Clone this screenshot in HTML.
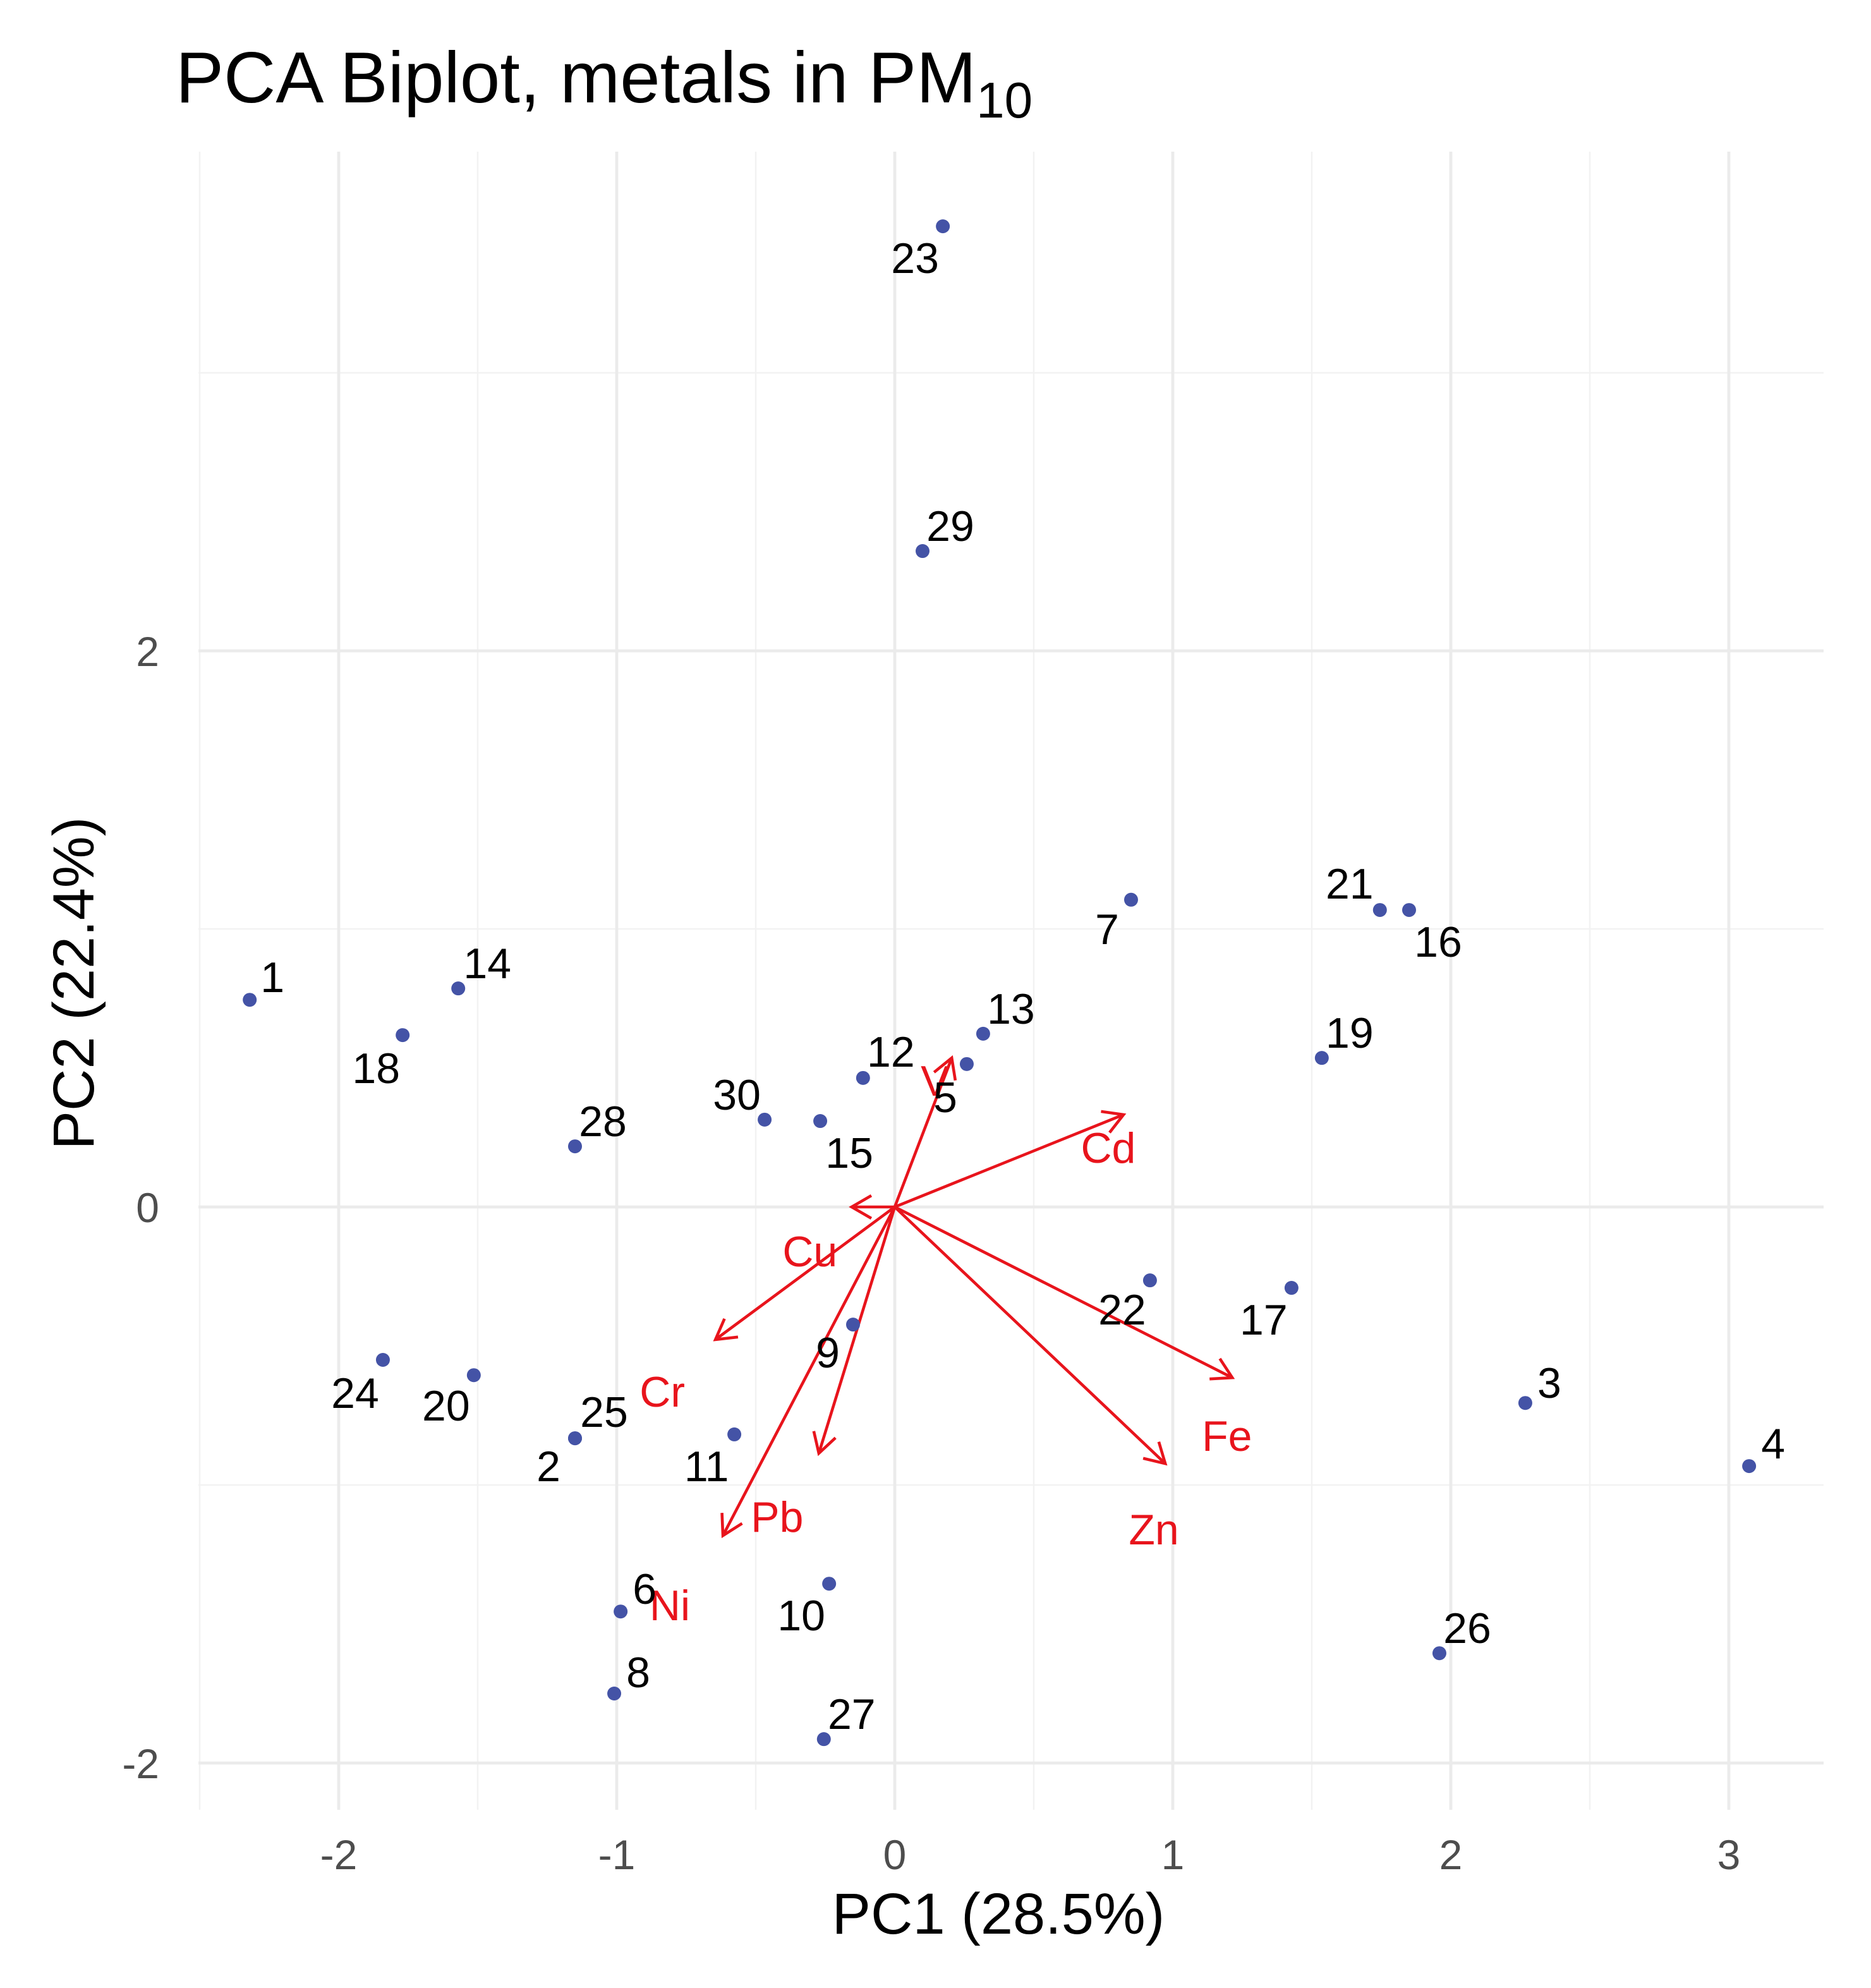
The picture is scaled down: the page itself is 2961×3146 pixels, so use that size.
<!DOCTYPE html>
<html><head><meta charset="utf-8">
<style>
html,body{margin:0;padding:0;background:#fff;}
svg{display:block;font-family:"Liberation Sans",Arial,sans-serif;}
</style></head>
<body>
<svg id="chart" width="2961" height="3146" viewBox="0 0 1480.5 1573" xmlns="http://www.w3.org/2000/svg">
<rect x="0" y="0" width="1480.5" height="1573" fill="#fff"/>
<g id="grid"></g>
<g id="ticks"></g>
<g id="arrows"></g>
<g id="points"></g>
<text x="139" y="81" font-size="57" fill="#000">PCA Biplot, metals in PM<tspan font-size="40" dy="12">10</tspan></text>
<text x="790" y="1530" font-size="46" text-anchor="middle" fill="#000">PC1 (28.5%)</text>
<text transform="translate(74,778) rotate(-90)" font-size="46" text-anchor="middle" fill="#000">PC2 (22.4%)</text>
</svg>
<script>
const obsIds = ["1","14","18","28","30","15","12","5","13","29","23","7","21","16","19","22","17","3","4","26","9","24","20","25","2","11","6","10","8","27"];
const pc1 = [-2.32,-1.57,-1.77,-1.15,-0.468,-0.268,-0.114,0.259,0.318,0.1,0.173,0.85,1.745,1.85,1.536,0.918,1.427,2.268,3.073,1.959,-0.15,-1.841,-1.514,-1.15,-1.15,-0.577,-0.986,-0.236,-1.009,-0.255];
const pc2 = [0.745,0.786,0.618,0.218,0.314,0.309,0.464,0.514,0.623,2.359,3.527,1.105,1.068,1.068,0.536,-0.264,-0.291,-0.705,-0.932,-1.605,-0.423,-0.55,-0.605,-0.832,-0.832,-0.818,-1.455,-1.355,-1.75,-1.914];
const labelDx = [18,23,-21,22,-22,23,22,-17,22,22,-22,-19,-24,23,22,-22,-22,19,19,22,-20,-22,-22,23,-21,-22,19,-22,19,22];
const labelDy = [-18,-20,26,-20,-20,25,-21,26,-20,-20,25,23,-21,25,-20,23,25,-16,-18,-20,22,26,24,-21,22,25,-18,25,-17,-20];
const varNames = ["V","Cd","Cu","Cr","Pb","Ni","Fe","Zn"];
const loadX = [0.205,0.823,-0.155,-0.645,-0.273,-0.618,1.214,0.973];
const loadY = [0.536,0.332,0,-0.477,-0.886,-1.182,-0.614,-0.923];
const varLabX = [0.145,0.768,-0.305,-0.836,-0.423,-0.809,1.195,0.932];
const varLabY = [0.455,0.214,-0.159,-0.664,-1.114,-1.432,-0.823,-1.159];
const xTicks = [-2,-1,0,1,2,3];
const yTicks = [-2,0,2];
const xMinor = [-2.5,-1.5,-0.5,0.5,1.5,2.5];
const yMinor = [-1,1,3];

const NS="http://www.w3.org/2000/svg";
const PX0=157,PX1=1443,PY0=120,PY1=1432;
const sx=v=>708+v*220, sy=v=>955-v*220;
function mk(tag,attrs,parent){const e=document.createElementNS(NS,tag);for(const k in attrs)e.setAttribute(k,attrs[k]);parent.appendChild(e);return e;}
const grid=document.getElementById('grid'),ticks=document.getElementById('ticks'),arrows=document.getElementById('arrows'),pts=document.getElementById('points');
xMinor.forEach(v=>{const l=mk('line',{x1:sx(v),x2:sx(v),y1:PY0,y2:PY1,stroke:'#f2f2f2','stroke-width':1.2},grid);

});
yMinor.forEach(v=>{const l=mk('line',{x1:PX0,x2:PX1,y1:sy(v),y2:sy(v),stroke:'#f2f2f2','stroke-width':1.2},grid);

});
xTicks.forEach(v=>{const l=mk('line',{x1:sx(v),x2:sx(v),y1:PY0,y2:PY1,stroke:'#ebebeb','stroke-width':2.4},grid);


const t=mk('text',{x:sx(v),y:1479,'font-size':33,fill:'#4d4d4d','text-anchor':'middle'},ticks);t.textContent=v;

});
yTicks.forEach(v=>{const l=mk('line',{x1:PX0,x2:PX1,y1:sy(v),y2:sy(v),stroke:'#ebebeb','stroke-width':2.4},grid);


const t=mk('text',{x:126,y:sy(v)+12,'font-size':33,fill:'#4d4d4d','text-anchor':'end'},ticks);t.textContent=v;

});
pc1.forEach((v,i)=>{const c=mk('circle',{cx:sx(v),cy:sy(pc2[i]),r:5.5,fill:'#4453a6'},pts);


const t=mk('text',{x:sx(v)+labelDx[i],y:sy(pc2[i])+labelDy[i]+12,'font-size':34,fill:'#000','text-anchor':'middle'},pts);t.textContent=obsIds[i];

});
const RED='#e8141c';
varNames.forEach((n,i)=>{const x0=sx(0),y0=sy(0),x1=sx(loadX[i]),y1=sy(loadY[i]);
const g=mk('g',{},arrows);


mk('line',{x1:x0,y1:y0,x2:x1,y2:y1,stroke:RED,'stroke-width':2.3},g);
const a=Math.atan2(y1-y0,x1-x0),L=18,w=Math.PI/6;
const p=`M${x1-L*Math.cos(a-w)},${y1-L*Math.sin(a-w)} L${x1},${y1} L${x1-L*Math.cos(a+w)},${y1-L*Math.sin(a+w)}`;
mk('path',{d:p,stroke:RED,'stroke-width':2.3,fill:'none'},g);
const t=mk('text',{x:sx(varLabX[i]),y:sy(varLabY[i])+12,'font-size':34,fill:RED,'text-anchor':'middle'},arrows);t.textContent=n;

});
</script>
</body></html>
